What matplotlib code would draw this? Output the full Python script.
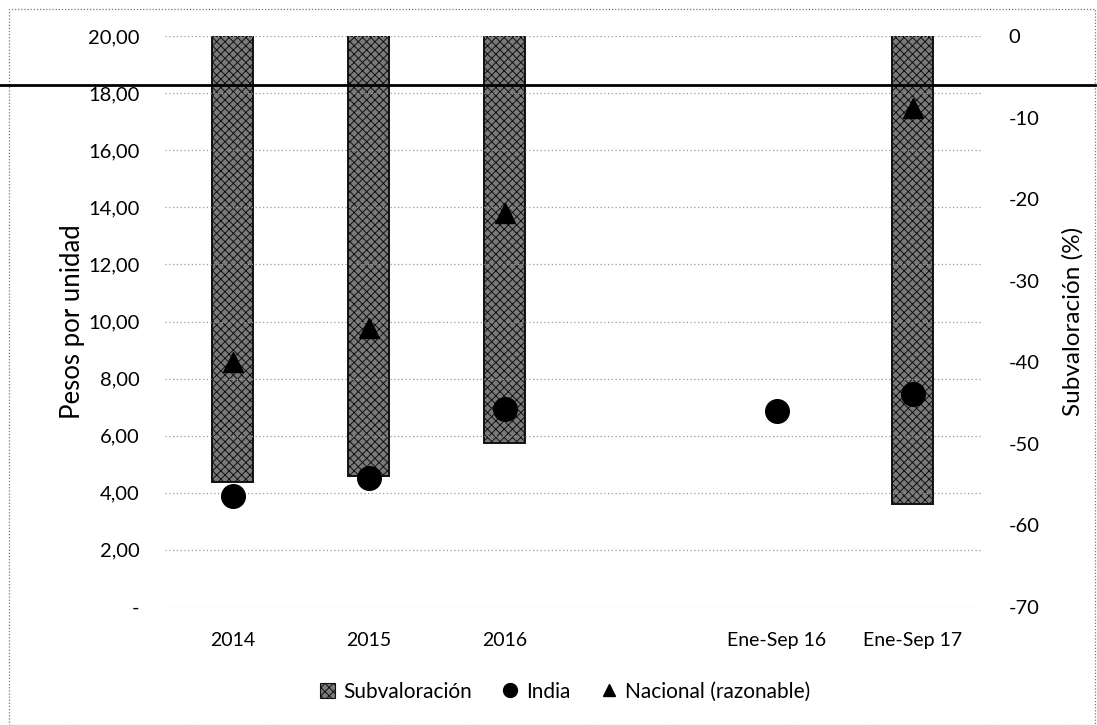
import matplotlib
matplotlib.use("Agg")
import matplotlib.pyplot as plt
from matplotlib.patches import Rectangle
from matplotlib.lines import Line2D
import numpy as np

plt.rcParams['font.family'] = ['Lato', 'DejaVu Sans']
plt.rcParams['hatch.linewidth'] = 0.7

categories = ["2014", "2015", "2016", "", "Ene-Sep 16", "Ene-Sep 17"]
subvaloracion = [-54.7, -53.9, -49.9, np.nan, np.nan, -57.4]
india = [3.9, 4.5, 6.93, np.nan, 6.87, 7.46]
nacional = [8.58, 9.77, 13.8, np.nan, np.nan, 17.5]
left_ticks = [0, 2, 4, 6, 8, 10, 12, 14, 16, 18, 20]
left_labels = ["-", "2,00", "4,00", "6,00", "8,00", "10,00", "12,00", "14,00", "16,00", "18,00", "20,00"]
right_ticks = [0, -10, -20, -30, -40, -50, -60, -70]

fig = plt.figure(figsize=(10.97, 7.25), dpi=100)
ax = fig.add_axes([0.150, 0.163, 0.744, 0.787])
ax2 = ax.twinx()

x = np.arange(len(categories))

# bars on right axis
for xi, v in zip(x, subvaloracion):
    if not np.isnan(v):
        ax2.bar(xi, v, width=0.3, color='#7a7a7a', edgecolor='#111111', hatch='xxxx', linewidth=1.4, zorder=2)
ax2.set_ylim(-70, 0)
ax2.set_yticks(right_ticks)
ax2.set_yticklabels([str(t) for t in right_ticks], fontsize=14.5)
ax2.set_ylabel("Subvaloración (%)", fontsize=17.5, labelpad=16)

# markers on left axis
ax.set_zorder(ax2.get_zorder() + 1)
ax.patch.set_visible(False)
ax.plot(x, india, 'o', color='black', markersize=17, linestyle='none', zorder=5)
ax.plot(x, nacional, '^', color='black', markersize=15, linestyle='none', zorder=5)
ax.set_ylim(0, 20)
ax.set_yticks(left_ticks)
ax.set_yticklabels(left_labels, fontsize=14.5)
ax.set_ylabel("Pesos por unidad", fontsize=18.5, labelpad=2)
ax.set_xlim(-0.5, len(categories) - 0.5)
ax.set_xticks(x)
ax.set_xticklabels(categories, fontsize=14)
ax.grid(axis='y', linestyle=(0, (1, 2)), color='#999999', linewidth=0.9)

for a in (ax, ax2):
    for s in a.spines.values():
        s.set_visible(False)
    a.tick_params(length=0)
ax.tick_params(axis='y', pad=18)
ax2.tick_params(axis='y', pad=20)
ax.tick_params(axis='x', pad=18)

# legend
handles = [
    Rectangle((0, 0), 1, 1, facecolor='#7a7a7a', edgecolor='#111111', hatch='xxxx', linewidth=0.8),
    Line2D([], [], marker='o', color='black', linestyle='none', markersize=10),
    Line2D([], [], marker='^', color='black', linestyle='none', markersize=8),
]
fig.legend(handles, ["Subvaloración", "India", "Nacional (razonable)"], loc='center',
           bbox_to_anchor=(0.515, 0.046), ncol=3, frameon=False, fontsize=15,
           handlelength=0.7, handleheight=0.7, handletextpad=0.4, columnspacing=1.5)

# scan artifacts: frame and horizontal line
fig.add_artist(Rectangle((0.008, 0.0), 0.99, 0.988, transform=fig.transFigure, fill=False,
                         edgecolor='#777777', linestyle=(0, (1, 1.5)), linewidth=0.9))
fig.add_artist(Line2D([0, 1], [0.883, 0.883], transform=fig.transFigure, color='black', linewidth=2))

fig.savefig("out.png", dpi=100)
